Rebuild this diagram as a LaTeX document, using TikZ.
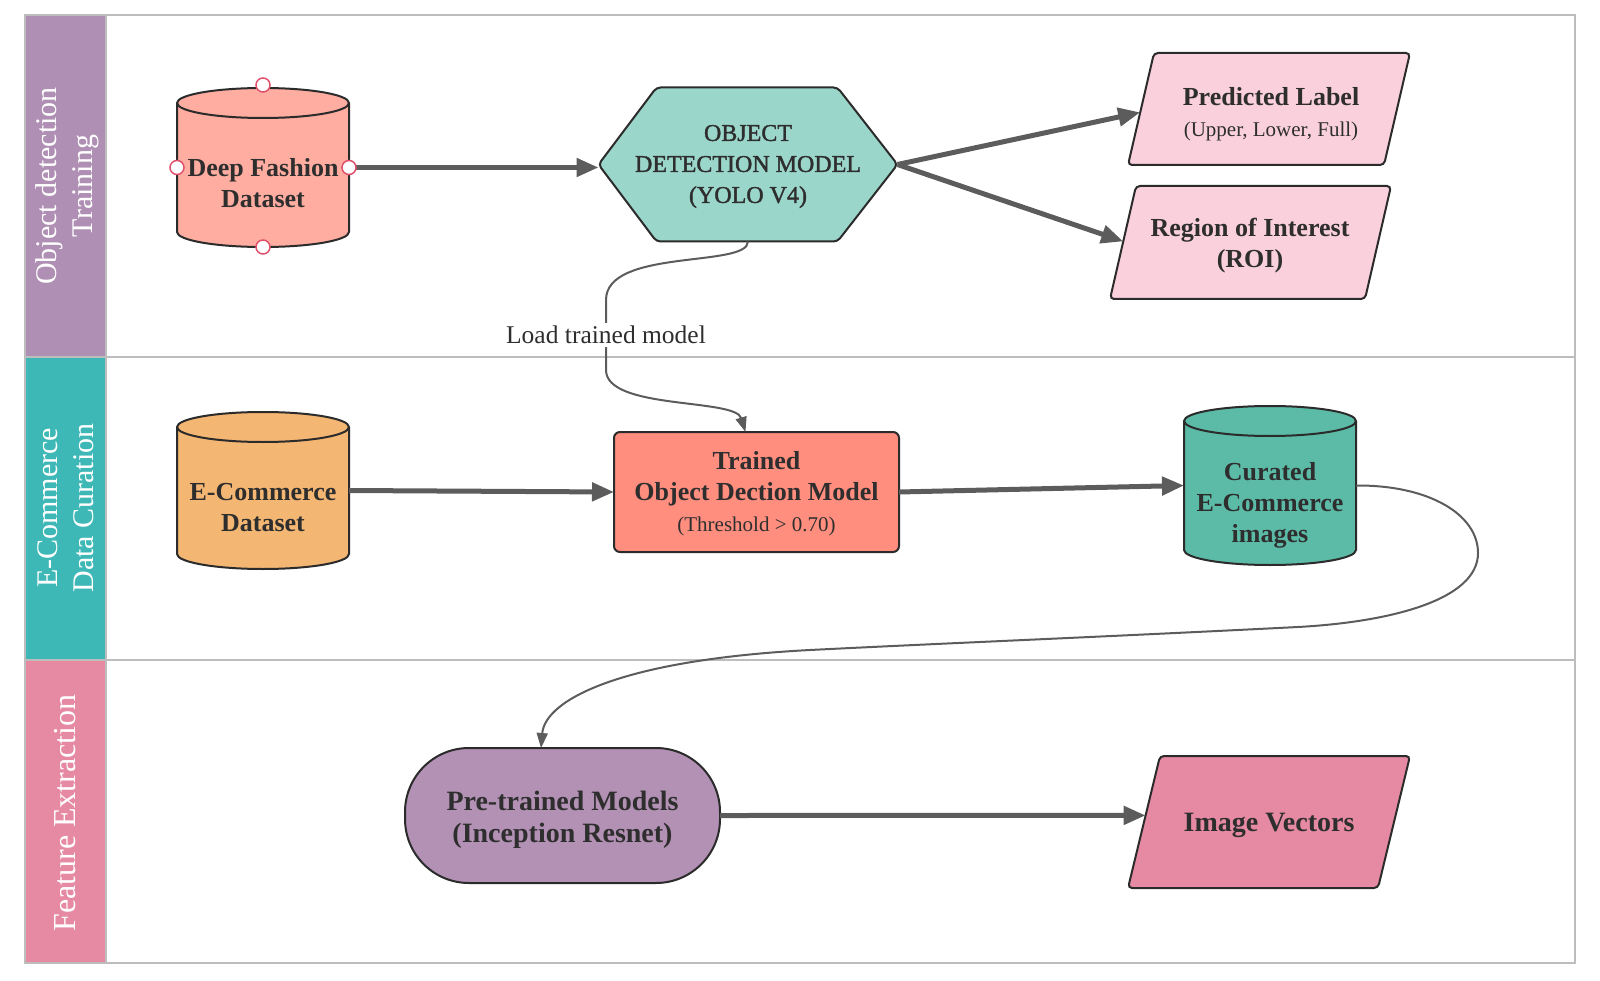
\documentclass[tikz,border=0pt]{standalone}
\usepackage{fontspec}
\setmainfont{Liberation Serif}
\newfontfamily\hexfont{Liberation Serif}[UprightFeatures={FakeBold=1.6}]
\usetikzlibrary{calc,arrows.meta}

\definecolor{edgecol}{HTML}{2B2B2B}
\definecolor{inkcol}{HTML}{2E2E2E}
\definecolor{arrowcol}{HTML}{5C5C5C}
\definecolor{framecol}{HTML}{BDBDBD}
\definecolor{laneA}{HTML}{B08FB4}
\definecolor{laneB}{HTML}{3DB8B6}
\definecolor{laneC}{HTML}{E68AA4}
\definecolor{dfcol}{HTML}{FFADA1}
\definecolor{hexcol}{HTML}{9BD6CB}
\definecolor{outcol}{HTML}{F9D0DC}
\definecolor{eccol}{HTML}{F4B673}
\definecolor{trcol}{HTML}{FF8E7F}
\definecolor{curcol}{HTML}{5CBBA7}
\definecolor{ptcol}{HTML}{B391B5}
\definecolor{ivcol}{HTML}{E68AA3}
\definecolor{handlecol}{HTML}{E0506A}

% drum (database) outline drawn around an empty geometry node
\newcommand{\drawdrum}[2]{%
  \path[fill=#2, draw=edgecol, line width=2pt]
    ($(#1.north west)+(0,15)$) -- ($(#1.south west)+(0,-15)$)
    arc[start angle=180, end angle=360, x radius=86pt, y radius=15pt]
    -- ($(#1.north east)+(0,15)$)
    arc[start angle=0, end angle=180, x radius=86pt, y radius=15pt] -- cycle;
  \draw[draw=edgecol, line width=2pt] ($(#1.north west)+(0,15)$)
    arc[start angle=180, end angle=360, x radius=86pt, y radius=15pt];
}
% slanted (data) shape around an empty geometry node
\newcommand{\drawslant}[3]{%
  \path[fill=#3, draw=edgecol, line width=2pt, rounded corners=4pt]
    (#1.south west) -- ($(#1.north west)+(#2,0)$) -- (#1.north east)
    -- ($(#1.south east)+(-#2,0)$) -- cycle;
}

\begin{document}
\begin{tikzpicture}[x=1pt, y=-1pt,
  geo/.style={draw=none, inner sep=0pt, outer sep=0pt},
  lanetext/.style={text=white, align=center, rotate=90,
    font=\fontsize{30}{36}\selectfont},
  maintext/.style={text=inkcol, align=center, yshift=-2pt,
    font=\fontsize{26}{31}\selectfont\bfseries},
  hextext/.style={text=inkcol, align=center, yshift=-2pt,
    font=\hexfont\fontsize{24}{31}\selectfont},
  bigarrow/.style={draw=arrowcol, line width=5pt,
    -{Triangle[length=22pt, width=18pt]}},
  thinarrow/.style={draw=arrowcol, line width=2pt,
    -{Triangle[length=15pt, width=11pt]}},
  frame/.style={draw=framecol, line width=2pt},
  handle/.style={draw=handlecol, fill=white, line width=1.5pt},
  looplabel/.style={fill=white, text=inkcol, inner sep=3pt,
    font=\fontsize{25.5}{30}\selectfont}
]
\useasboundingbox (0,0) rectangle (1600,981);

% ---- swimlanes ----
\fill[laneA] (25,15) rectangle (106,357);
\fill[laneB] (25,357) rectangle (106,660);
\fill[laneC] (25,660) rectangle (106,963);
\draw[frame] (25,15) rectangle (1575,963);
\draw[frame] (25,357) -- (1575,357);
\draw[frame] (25,660) -- (1575,660);
\draw[frame] (106,15) -- (106,963);

\node[lanetext] (laneA-t) at (67,186) {Object detection\\Training};
\node[lanetext] (laneB-t) at (66,508) {E-Commerce\\Data Curation};
\node[lanetext, font=\fontsize{32}{36}\selectfont] (laneC-t) at (65,813) {Feature Extraction};

% ---- geometry of the shapes ----
\node[geo, minimum width=172pt, minimum height=159pt] (df)  at (263,167.5) {};
\node[geo, minimum width=299pt, minimum height=154pt] (hex) at (748,164.5) {};
\node[geo, minimum width=282pt, minimum height=112pt] (pl)  at (1269,109) {};
\node[geo, minimum width=281pt, minimum height=113pt] (roi) at (1250.5,242.5) {};
\node[geo, minimum width=172pt, minimum height=157pt] (ec)  at (263,490.5) {};
\node[geo, minimum width=285pt, minimum height=120pt] (tr)  at (756.5,492) {};
\node[geo, minimum width=172pt, minimum height=159pt] (cur) at (1270,485.5) {};
\node[geo, minimum width=315pt, minimum height=135pt] (pt)  at (562.5,815.5) {};
\node[geo, minimum width=282pt, minimum height=132pt] (iv)  at (1269,822) {};

% ---- shapes ----
\drawdrum{df}{dfcol}
\drawdrum{ec}{eccol}
\drawdrum{cur}{curcol}
\path[fill=hexcol, draw=edgecol, line width=2pt, rounded corners=4pt]
  (hex.west) -- ($(hex.north west)+(58,0)$) -- ($(hex.north east)+(-60,0)$)
  -- (hex.east) -- ($(hex.south east)+(-60,0)$) -- ($(hex.south west)+(58,0)$) -- cycle;
\drawslant{pl}{26}{outcol}
\drawslant{roi}{26}{outcol}
\drawslant{iv}{32}{ivcol}
\path[fill=trcol, draw=edgecol, line width=2pt, rounded corners=6pt]
  (tr.north west) rectangle (tr.south east);
\path[fill=ptcol, draw=edgecol, line width=2pt, rounded corners=64pt]
  (pt.north west) rectangle (pt.south east);

% ---- texts ----
\node[maintext] (df-t) at ($(df.center)+(0,14)$) {Deep Fashion\\Dataset};
\node[hextext] (hex-t) at (hex.center) {OBJECT\\DETECTION MODEL\\(YOLO V4)};
\node[maintext] (pl-t) at (1271,112)
  {Predicted Label\\{\mdseries\fontsize{21}{30}\selectfont (Upper, Lower, Full)}};
\node[maintext] (roi-t) at (1250,244) {Region of Interest\\(ROI)};
\node[maintext] (ec-t) at ($(ec.center)+(0,15)$) {E-Commerce\\Dataset};
\node[maintext] (tr-t) at (756.5,492)
  {Trained\\Object Dection Model\\{\mdseries\fontsize{21}{30}\selectfont (Threshold > 0.70)}};
\node[maintext] (cur-t) at ($(cur.center)+(0,18)$) {Curated\\E-Commerce\\images};
\node[maintext, font=\fontsize{28}{32}\selectfont\bfseries] (pt-t) at (562.5,817.5)
  {Pre-trained Models\\(Inception Resnet)};
\node[maintext, font=\fontsize{28}{32}\selectfont\bfseries] (iv-t) at (1269,823) {Image Vectors};

% ---- connector end points on slanted edges ----
\coordinate (pl-in)  at ($(pl.south west)!0.47!($(pl.north west)+(26,0)$)$);
\coordinate (roi-in) at ($(roi.south west)!0.51!($(roi.north west)+(26,0)$)$);
\coordinate (iv-in)  at ($(iv.south west)!0.55!($(iv.north west)+(32,0)$)$);

% ---- connectors ----
\draw[bigarrow] (df.east) -- (hex.west |- df.east);
\draw[bigarrow] (hex.east) -- (pl-in);
\draw[bigarrow] (hex.east) -- (roi-in);
\draw[bigarrow] (ec.east) -- (tr.west);
\draw[bigarrow] (tr.east) -- (cur.west);
\draw[bigarrow] (pt.east) -- (iv-in);

\draw[thinarrow] (hex.south) .. controls (748,268) and (606,248) .. (606,300)
  -- node[looplabel] (load-t) {Load trained model} (606,370)
  .. controls (606,410) and (735,398) .. ($(tr.north)+(-11,0)$);

\draw[thinarrow] (cur.east) .. controls (1430,485) and (1478,515) .. (1478,553)
  .. controls (1478,600) and (1390,622) .. (1298,627)
  .. controls (1100,637) and (950,643) .. (810,650)
  .. controls (620,660) and (545,700) .. ($(pt.north west)+(136,0)$);

% ---- selection handles ----
\draw[handle] ($(df.north)+(0,-3)$) circle[radius=7pt];
\draw[handle] (df.south) circle[radius=7pt];
\draw[handle] (df.west) circle[radius=7pt];
\draw[handle] (df.east) circle[radius=7pt];

\end{tikzpicture}
\end{document}
